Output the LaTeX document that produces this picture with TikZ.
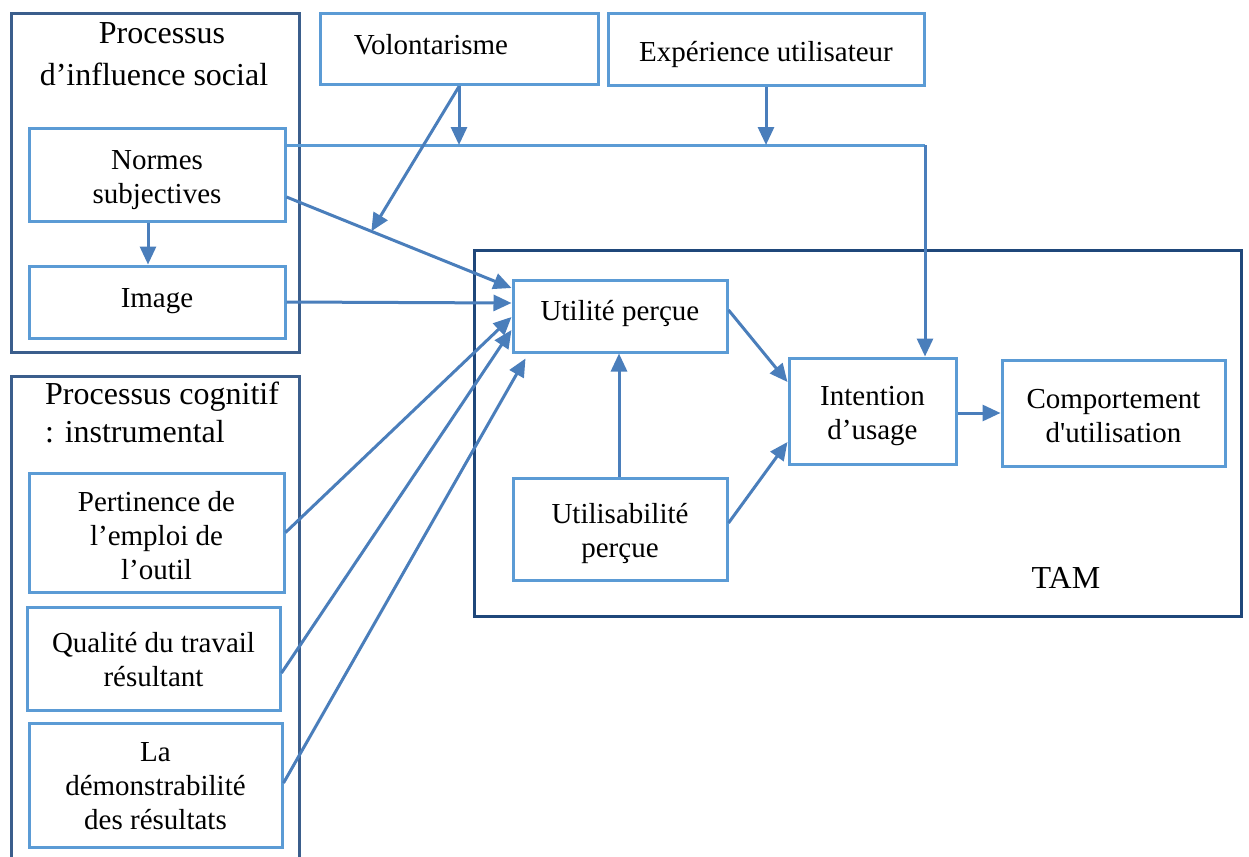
\documentclass[tikz,border=0pt]{standalone}
\usepackage{fontspec}
\setmainfont{Liberation Serif}[Ligatures=TeXOff]
\usetikzlibrary{arrows.meta,calc}
\definecolor{boxblue}{HTML}{5B9BD5}
\definecolor{arrowblue}{HTML}{4A7EBB}
\definecolor{framenavy}{HTML}{3B5E8C}
\definecolor{tamnavy}{HTML}{1F477A}
\begin{document}
\begin{tikzpicture}[x=1pt,y=-1pt,
  inbox/.style={draw=boxblue, line width=3pt, inner sep=0pt},
  lbl/.style={inner sep=0pt, align=center, font=\fontsize{29}{34}\selectfont},
  frame/.style={draw=framenavy, line width=3pt},
  title/.style={inner sep=0pt, font=\fontsize{32}{40}\selectfont},
  arr/.style={draw=arrowblue, line width=3pt,
    -{Triangle[length=18pt,width=16pt]}},
  link/.style={draw=boxblue, line width=3pt}]
\useasboundingbox (0,0) rectangle (1249,856);
\fill[white] (0,0) rectangle (1249,856);

% group frames
\draw[frame] (11,14) rectangle (299,352);
\draw[frame] (11,870) -- (11,376) -- (299,376) -- (299,870);
\draw[draw=tamnavy, line width=3pt] (474,250) rectangle (1241,616);

% group titles
\node[title, align=center, font=\fontsize{32}{42}\selectfont] (tsoc) at (154,54)
  {\hspace*{16pt}Processus\\d’influence social};
\node[title, align=left, anchor=west, font=\fontsize{32}{38}\selectfont] (tcog) at (45,412)
  {Processus cognitif\\: instrumental};
\node[title] (ttam) at (1066,578) {TAM};

% boxes
\node[inbox, minimum width=256pt, minimum height=93pt] (normes) at (157,174.5) {};
\node[inbox, minimum width=256pt, minimum height=72pt] (image) at (157,302) {};
\node[inbox, minimum width=255pt, minimum height=119pt] (pert) at (156.5,532.5) {};
\node[inbox, minimum width=253pt, minimum height=103pt] (qual) at (153.5,658.5) {};
\node[inbox, minimum width=253pt, minimum height=124pt] (demo) at (155.5,785) {};
\node[inbox, minimum width=278pt, minimum height=71pt] (volo) at (459,49.5) {};
\node[inbox, minimum width=316pt, minimum height=72pt] (expe) at (766,50) {};
\node[inbox, minimum width=214pt, minimum height=72pt] (util) at (620,316) {};
\node[inbox, minimum width=214pt, minimum height=102pt] (usab) at (620,529) {};
\node[inbox, minimum width=167pt, minimum height=106pt] (inten) at (872.5,411) {};
\node[inbox, minimum width=223pt, minimum height=106pt] (comp) at (1113.5,413) {};

% box texts
\node[lbl] (l-normes) at (157,180.5) {Normes\\subjectives};
\node[lbl] (l-image) at (157,301) {Image};
\node[lbl] (l-pert) at (156.5,536) {Pertinence de\\l’emploi de\\l’outil};
\node[lbl] (l-qual) at (153.5,659.5) {Qualité du travail\\résultant};
\node[lbl] (l-demo) at (155.5,786.5) {La\\démonstrabilité\\des résultats};
\node[lbl] (l-volo) at (431,45) {Volontarisme};
\node[lbl] (l-expe) at (766,55) {Expérience utilisateur};
\node[lbl] (l-util) at (620,314) {Utilité perçue};
\node[lbl] (l-usab) at (620,533) {Utilisabilité\\perçue};
\node[lbl] (l-inten) at (872.5,416) {Intention\\d’usage};
\node[lbl] (l-comp) at (1113.5,416) {Comportement\\d'utilisation};

% connectors
\draw[arr] ([xshift=-9pt]normes.south) -- ([xshift=-9pt]image.north);
\coordinate (hl) at (925,145);
\draw[link] (normes.north east |- hl) -- (hl);
\draw[arr] (hl) -- (hl |- inten.north);
\draw[arr] (volo.south) -- (volo.south |- hl);
\draw[arr] (expe.south) -- (expe.south |- hl);
\coordinate (ns) at ([yshift=-22.5pt]normes.east);
\coordinate (ut) at ([yshift=28pt]util.west);
\draw[arr] (ns) -- (ut);
\coordinate (vj) at ($(ns)!0.377!(ut)$);
\draw[arr] (volo.south) -- (vj);
\draw[arr] (image.east) -- ([yshift=13pt]util.west);
\draw[arr] (pert.east) -- ([yshift=-1pt]util.west);
\draw[arr] ([yshift=-14.5pt]qual.east) -- ([yshift=-14pt]util.west);
\draw[arr] ([yshift=2pt]demo.east) -- ([xshift=14pt,yshift=-5pt]util.south west);
\draw[arr] ([yshift=6pt]util.east) -- ([yshift=29pt]inten.west);
\draw[arr] ([yshift=6pt]usab.east) -- ([yshift=-31pt]inten.west);
\draw[arr] ([xshift=-1pt]usab.north) -- ([xshift=-1pt]util.south);
\draw[arr] ([yshift=-2pt]inten.east) -- (comp.west);
\end{tikzpicture}
\end{document}
